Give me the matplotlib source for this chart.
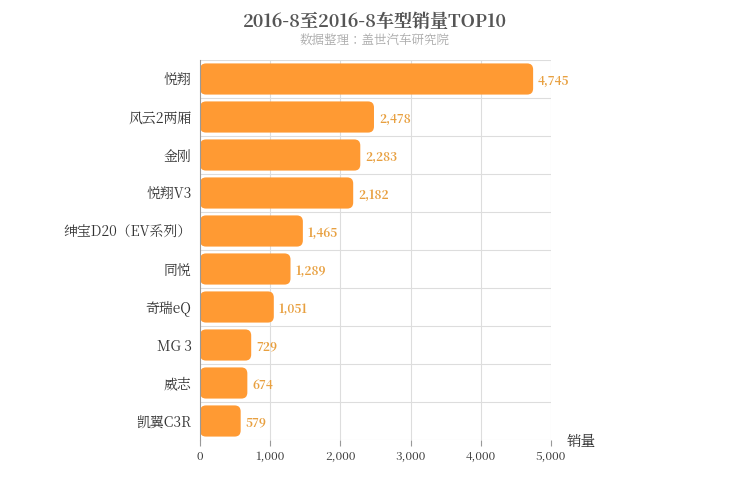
import matplotlib
matplotlib.use("Agg")
import matplotlib.pyplot as plt
from matplotlib import font_manager
from matplotlib.patches import FancyBboxPatch

# pick whatever CJK family matplotlib actually registered
cjk = [f.name for f in font_manager.fontManager.ttflist if "CJK" in f.name]
plt.rcParams["font.family"] = "sans-serif"
plt.rcParams["font.sans-serif"] = cjk[:1] + ["Noto Sans CJK SC", "Noto Sans CJK JP", "DejaVu Sans"]

models = ["悦翔", "风云2两厢", "金刚", "悦翔V3", "绅宝D20（EV系列）",
          "同悦", "奇瑞eQ", "MG 3", "威志", "凯翼C3R"]
sales = [4745, 2478, 2283, 2182, 1465, 1289, 1051, 729, 674, 579]
xticks = [0, 1000, 2000, 3000, 4000, 5000]

fig = plt.figure(figsize=(7.5, 5), dpi=100)
ax = fig.add_axes([0.2667, 0.12, 0.468, 0.76])

n = len(models)
ax.set_xlim(0, 5000)
ax.set_ylim(n - 0.5, -0.5)

# grid: vertical at ticks, horizontal between rows
for x in xticks[1:]:
    ax.axvline(x, color="#dddddd", lw=0.8, zorder=0)
for i in range(n + 1):
    ax.axhline(i - 0.5, color="#dddddd", lw=0.8, zorder=0)

h = 0.82
for i, v in enumerate(sales):
    patch = FancyBboxPatch((0, i - h / 2), v, h,
                           boxstyle="round,pad=0,rounding_size=85",
                           mutation_aspect=0.16 / 85,
                           fc="#ff9a33", ec="none", zorder=2)
    ax.add_patch(patch)
    ax.text(v + 70, i + 0.05, f"{v:,}", va="center", ha="left",
            fontsize=8.5, color="#e8a040", fontweight="bold")

ax.set_yticks(range(n))
ax.set_yticklabels(models, fontsize=10, color="#333333")
ax.set_xticks(xticks)
ax.set_xticklabels([f"{x:,}" for x in xticks], fontsize=8.5, color="#333333")
ax.tick_params(axis="y", length=0, pad=6)
ax.tick_params(axis="x", length=4, color="#999999")
for s in ["top", "right"]:
    ax.spines[s].set_visible(False)
ax.spines["bottom"].set_visible(False)
ax.spines["left"].set_color("#999999")

fig.text(0.775, 0.108, "销量", fontsize=10.5, color="#333333", ha="center")
fig.text(0.5, 0.955, "2016-8至2016-8车型销量TOP10", fontsize=13,
         fontweight="bold", color="#555555", ha="center", va="center")
fig.text(0.5, 0.918, "数据整理：盖世汽车研究院", fontsize=9,
         color="#aaaaaa", ha="center", va="center")

fig.savefig("out.png")
